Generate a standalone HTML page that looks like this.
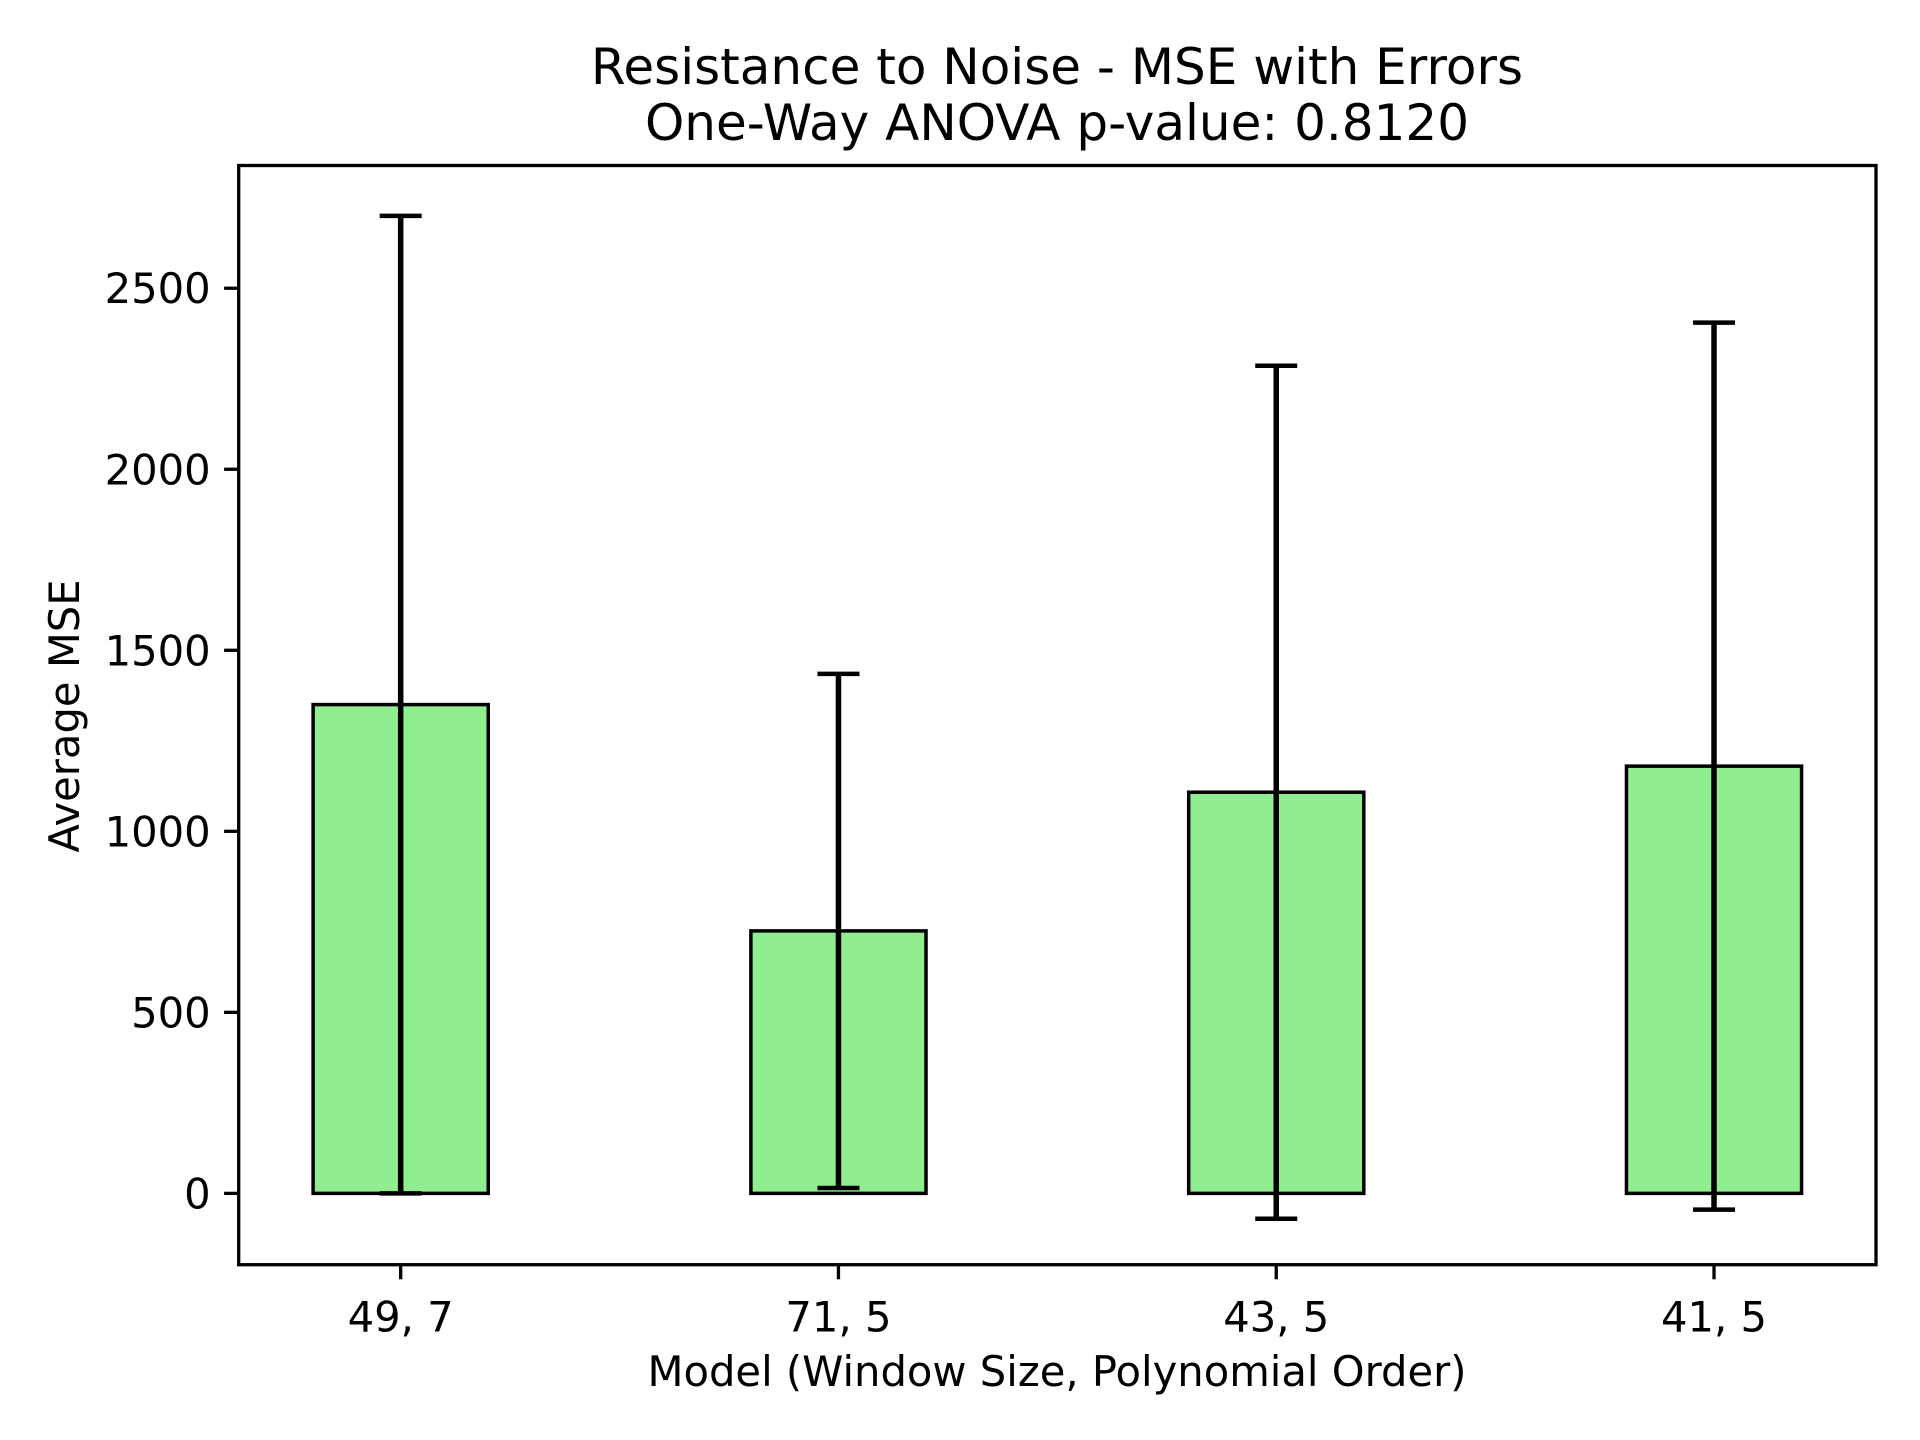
<!DOCTYPE html>
<html><head><meta charset="utf-8"><style>
html,body{margin:0;padding:0;background:#fff;}
svg{display:block;font-family:"DejaVu Sans","Liberation Sans",sans-serif;}
</style></head><body>
<svg id="chart" width="1920" height="1440" viewBox="0 0 1920 1440" xmlns="http://www.w3.org/2000/svg">
<rect width="1920" height="1440" fill="#fff"/>
<text x="1057" y="84" font-size="50" text-anchor="middle">Resistance to Noise - MSE with Errors</text>
<text x="1057" y="140" font-size="50" text-anchor="middle">One-Way ANOVA p-value: 0.8120</text>
<g id="plot"></g>
<text x="1057" y="1386" font-size="41.7" text-anchor="middle">Model (Window Size, Polynomial Order)</text>
<text x="0" y="0" font-size="41.7" text-anchor="middle" transform="translate(79,716) rotate(-90)">Average MSE</text>
</svg>
<script>
const categories = ["49, 7", "71, 5", "43, 5", "41, 5"];
const means = [1350, 725, 1108, 1180];
const errors = [1350, 710, 1178, 1225];
const yTicks = [0, 500, 1000, 1500, 2000, 2500];

const NS = "http://www.w3.org/2000/svg";
const L = 238.7, R = 1876, T = 165.5, B = 1264.7;
const yMin = -197, yMax = 2839;
const n = categories.length;
function y(v){ return B - (v - yMin) / (yMax - yMin) * (B - T); }
const xLo = -0.37, xHi = n - 1 + 0.37;
function x(i){ return L + (i - xLo) / (xHi - xLo) * (R - L); }
const barW = (x(1) - x(0)) * 0.4;

const g = document.getElementById('plot');
function mk(tag, attrs){ const e = document.createElementNS(NS, tag); for (const k in attrs) e.setAttribute(k, attrs[k]); g.appendChild(e); return e; }

categories.forEach((c, i) => {
  const cx = x(i);
  const bar = mk('rect', {x: cx - barW/2, y: y(means[i]), width: barW, height: y(0) - y(means[i]), fill: '#90ee90', stroke: '#000', 'stroke-width': 3.5});
  
  
  const hi = means[i] + errors[i], lo = means[i] - errors[i];
  const el = mk('line', {x1: cx, x2: cx, y1: y(lo), y2: y(hi), stroke: '#000', 'stroke-width': 5.5});
  
  
  [hi, lo].forEach(v => {
    const cap = mk('line', {x1: cx - 21, x2: cx + 21, y1: y(v), y2: y(v), stroke: '#000', 'stroke-width': 4.5});
    
    
  });
  const tk = mk('line', {x1: cx, x2: cx, y1: B, y2: B + 14.6, stroke: '#000', 'stroke-width': 3.3});
  
  
  const tl = mk('text', {x: cx, y: B + 67, 'font-size': 41.7, 'text-anchor': 'middle'});
  tl.textContent = c;
  
  
});

yTicks.forEach(v => {
  const yy = y(v);
  const tk = mk('line', {x1: L - 14.6, x2: L, y1: yy, y2: yy, stroke: '#000', 'stroke-width': 3.3});
  
  
  const tl = mk('text', {x: L - 28, y: yy + 15, 'font-size': 41.7, 'text-anchor': 'end'});
  tl.textContent = v;
  
  
});

const frame = mk('rect', {x: L, y: T, width: R - L, height: B - T, fill: 'none', stroke: '#000', 'stroke-width': 3.3});


</script>
</body></html>
